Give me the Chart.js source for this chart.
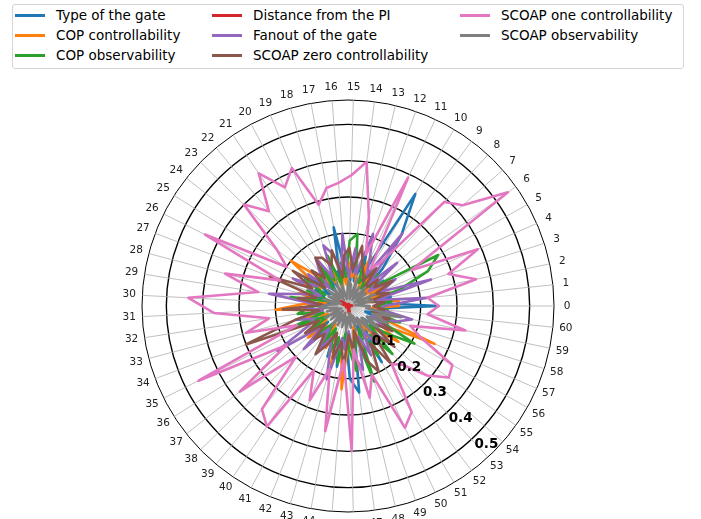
<!DOCTYPE html>
<html>
<head>
<meta charset="utf-8">
<script src="https://cdn.jsdelivr.net/npm/chart.js@4.4.0/dist/chart.umd.min.js"></script>
<style>
  html, body { margin: 0; padding: 0; background: #fff; overflow: hidden; }
  #wrap { position: relative; width: 701px; height: 519px; }
  #legend {
    position: absolute; left: 12px; top: 4px; width: 672px; height: 65px;
    border: 1px solid #d6d6d6; border-radius: 3px; background: #fff;
    font-family: 'DejaVu Sans', sans-serif; font-size: 13.5px; color: #000;
    box-sizing: border-box;
  }
  .item { position: absolute; display: flex; align-items: center; height: 16px; white-space: nowrap; }
  .item i { display: inline-block; width: 30px; height: 3px; margin-right: 11px; }
</style>
</head>
<body>
<div id="wrap">
  <canvas id="myChart" width="701" height="519"></canvas>
  <div id="legend"></div>
</div>
<script>
// spoke labels, counter-clockwise from the right
const spokes = ['0','1','2','3','4','5','6','7','8','9',
    '10','11','12','13','14','15','16','17','18','19',
    '20','21','22','23','24','25','26','27','28','29',
    '30','31','32','33','34','35','36','37','38','39',
    '40','41','42','43','44','45','46','47','48','49',
    '50','51','52','53','54','55','56','57','58','59','60']

const names = ['Type of the gate', 'COP controllability', 'COP observability', 'Distance from the PI',
    'Fanout of the gate', 'SCOAP zero controllability', 'SCOAP one controllability', 'SCOAP observability']
const colors = ['#1f77b4', '#ff7f0e', '#2ca02c', '#d62728', '#9467bd', '#8c564b', '#e377c2', '#7f7f7f']

const typeOfGate = [0.25, 0.08, 0.12, 0.06, 0.10, 0.07, 0.12, 0.05, 0.14, 0.245,
    0.36, 0.10, 0.15, 0.07, 0.12, 0.05, 0.10, 0.22, 0.08, 0.12,
    0.06, 0.10, 0.05, 0.09, 0.12, 0.06, 0.10, 0.07, 0.09, 0.05,
    0.11, 0.06, 0.10, 0.08, 0.12, 0.06, 0.13, 0.07, 0.15, 0.06,
    0.12, 0.08, 0.15, 0.10, 0.17, 0.08, 0.20, 0.24, 0.08, 0.14,
    0.06, 0.18, 0.07, 0.12, 0.05, 0.10, 0.06, 0.11, 0.05, 0.09, 0.07]
const copControllability = [0.14, 0.14, 0.05, 0.10, 0.06, 0.12, 0.05, 0.09, 0.06, 0.11,
    0.05, 0.15, 0.06, 0.10, 0.08, 0.12, 0.06, 0.10, 0.05, 0.13,
    0.07, 0.15, 0.08, 0.12, 0.20, 0.09, 0.16, 0.08, 0.14, 0.06,
    0.12, 0.20, 0.07, 0.13, 0.06, 0.11, 0.07, 0.14, 0.08, 0.10,
    0.06, 0.13, 0.08, 0.17, 0.10, 0.23, 0.09, 0.15, 0.06, 0.12,
    0.08, 0.10, 0.06, 0.13, 0.09, 0.17, 0.10, 0.26, 0.08, 0.13, 0.06]
const copObservability = [0.08, 0.12, 0.06, 0.15, 0.24, 0.285, 0.10, 0.08, 0.12, 0.06,
    0.10, 0.07, 0.13, 0.10, 0.20, 0.18, 0.08, 0.12, 0.06, 0.15,
    0.08, 0.13, 0.06, 0.11, 0.08, 0.14, 0.07, 0.12, 0.05, 0.16,
    0.08, 0.11, 0.14, 0.07, 0.16, 0.06, 0.12, 0.08, 0.10, 0.06,
    0.13, 0.07, 0.14, 0.09, 0.16, 0.07, 0.12, 0.18, 0.08, 0.22,
    0.07, 0.16, 0.10, 0.18, 0.08, 0.13, 0.21, 0.09, 0.15, 0.07, 0.11]
const distanceFromPI = [0.004, 0.012, 0.004, 0.003, 0.006, 0.004, 0.003, 0.005, 0.004, 0.003,
    0.004, 0.006, 0.003, 0.004, 0.005, 0.003, 0.004, 0.003, 0.005, 0.004,
    0.003, 0.004, 0.006, 0.010, 0.018, 0.028, 0.038, 0.030, 0.012, 0.005,
    0.004, 0.003, 0.005, 0.004, 0.003, 0.004, 0.006, 0.004, 0.003, 0.005,
    0.004, 0.003, 0.004, 0.005, 0.003, 0.004, 0.008, 0.020, 0.026, 0.012,
    0.004, 0.003, 0.005, 0.004, 0.003, 0.004, 0.006, 0.004, 0.003, 0.005, 0.004]
const fanout = [0.10, 0.22, 0.08, 0.24, 0.10, 0.15, 0.07, 0.18, 0.08, 0.25,
    0.10, 0.14, 0.21, 0.09, 0.16, 0.08, 0.20, 0.10, 0.15, 0.18,
    0.09, 0.16, 0.12, 0.07, 0.14, 0.10, 0.17, 0.08, 0.13, 0.22,
    0.09, 0.12, 0.07, 0.15, 0.10, 0.12, 0.23, 0.09, 0.17, 0.08,
    0.15, 0.10, 0.13, 0.21, 0.09, 0.12, 0.07, 0.14, 0.18, 0.09,
    0.15, 0.08, 0.13, 0.10, 0.16, 0.08, 0.12, 0.07, 0.14, 0.18, 0.09]
const scoapZero = [0.07, 0.10, 0.06, 0.12, 0.08, 0.14, 0.09, 0.11, 0.06, 0.13,
    0.08, 0.10, 0.12, 0.17, 0.10, 0.16, 0.14, 0.08, 0.16, 0.12,
    0.15, 0.16, 0.10, 0.14, 0.08, 0.18, 0.11, 0.23, 0.09, 0.14,
    0.07, 0.18, 0.08, 0.15, 0.30, 0.09, 0.14, 0.08, 0.13, 0.10,
    0.16, 0.12, 0.08, 0.15, 0.10, 0.17, 0.08, 0.13, 0.07, 0.16,
    0.20, 0.12, 0.20, 0.10, 0.17, 0.08, 0.14, 0.09, 0.12, 0.07, 0.10]
const scoapOne = [0.25, 0.22, 0.36, 0.29, 0.39, 0.20, 0.54, 0.42, 0.39, 0.15,
    0.12, 0.39, 0.15, 0.25, 0.40, 0.36, 0.34, 0.33, 0.29, 0.41,
    0.37, 0.44, 0.34, 0.40, 0.25, 0.20, 0.44, 0.20, 0.35, 0.25,
    0.44, 0.37, 0.22, 0.29, 0.15, 0.46, 0.20, 0.38, 0.20, 0.37,
    0.40, 0.20, 0.28, 0.18, 0.35, 0.15, 0.40, 0.12, 0.26, 0.20,
    0.37, 0.34, 0.20, 0.22, 0.29, 0.34, 0.33, 0.22, 0.18, 0.33, 0.22]
const scoapObservability = [0.06, 0.02, 0.07, 0.03, 0.08, 0.02, 0.06, 0.03, 0.07, 0.02,
    0.06, 0.03, 0.08, 0.02, 0.06, 0.07, 0.03, 0.02, 0.06, 0.03,
    0.07, 0.02, 0.06, 0.03, 0.07, 0.03, 0.06, 0.02, 0.07, 0.03,
    0.06, 0.08, 0.03, 0.06, 0.02, 0.07, 0.03, 0.06, 0.02, 0.07,
    0.03, 0.06, 0.02, 0.06, 0.03, 0.07, 0.03, 0.06, 0.02, 0.07,
    0.03, 0.08, 0.04, 0.09, 0.05, 0.10, 0.06, 0.12, 0.07, 0.15, 0.05]

const rTicks = [0, 0.1, 0.2, 0.3, 0.4, 0.5]
const rMax = 0.567

const series = [typeOfGate, copControllability, copObservability, distanceFromPI,
    fanout, scoapZero, scoapOne, scoapObservability]

// Chart.js walks clockwise, so feed the spokes as 0, 60, 59, ... 1
const order = [0]
for (let k = spokes.length - 1; k >= 1; k--) order.push(k)

const datasets = series.map((values, i) => ({
    label: names[i],
    data: order.map(k => values[k]),
    borderColor: colors[i],
    backgroundColor: colors[i],
    borderWidth: 2.6,
    borderJoinStyle: 'round',
    pointRadius: 0,
    fill: false,
    order: series.length - i,
}))

const polarText = {
    id: 'polarText',
    afterDraw(chart) {
        const scale = chart.scales.r
        const ctx = chart.ctx
        ctx.save()
        ctx.textAlign = 'center'
        ctx.textBaseline = 'middle'
        ctx.fillStyle = '#222'
        ctx.font = '10.5px "DejaVu Sans"'
        order.forEach((k, i) => {
            const p = scale.getPointPosition(i, scale.drawingArea + 13)
            ctx.fillText(spokes[k], p.x, p.y)
        })
        ctx.fillStyle = '#000'
        ctx.font = 'bold 13.5px "DejaVu Sans"'
        const a = Math.PI / 4
        rTicks.slice(1).forEach((v) => {
            const d = scale.getDistanceFromCenterForValue(v) + 14
            ctx.fillText(v.toFixed(1), scale.xCenter + d * Math.cos(a), scale.yCenter + d * Math.sin(a))
        })
        ctx.restore()
    }
}

const ctx = document.getElementById('myChart').getContext('2d')
new Chart(ctx, {
    type: 'radar',
    data: { labels: order.map(k => spokes[k]), datasets: datasets },
    plugins: [polarText],
    options: {
        responsive: false,
        animation: false,
        devicePixelRatio: 1,
        layout: { padding: { left: 142, right: 147, top: 100, bottom: 7 } },
        elements: { line: { tension: 0 } },
        plugins: { legend: { display: false }, tooltip: { enabled: false } },
        scales: {
            r: {
                min: 0,
                max: rMax,
                startAngle: 90,
                afterBuildTicks: (scale) => {
                    scale.ticks = rTicks.concat([rMax]).map(v => ({ value: v }))
                },
                ticks: { display: false },
                pointLabels: { display: false },
                grid: {
                    circular: true,
                    color: '#000',
                    lineWidth: (c) => (c.tick && c.tick.value > 0.55 ? 1 : 1.4),
                },
                angleLines: { display: true, color: '#b0b0b0', lineWidth: 0.8 },
            }
        }
    }
})

// legend in matplotlib column order
const legend = document.getElementById('legend')
names.forEach((name, i) => {
    const col = Math.floor(i / 3)
    const row = i % 3
    const el = document.createElement('div')
    el.className = 'item'
    el.style.left = [2, 199, 447][col] + 'px'
    el.style.top = (2 + row * 20) + 'px'
    el.innerHTML = '<i style="background:' + colors[i] + '"></i><span>' + name + '</span>'
    legend.appendChild(el)
})
</script>
</body>
</html>
